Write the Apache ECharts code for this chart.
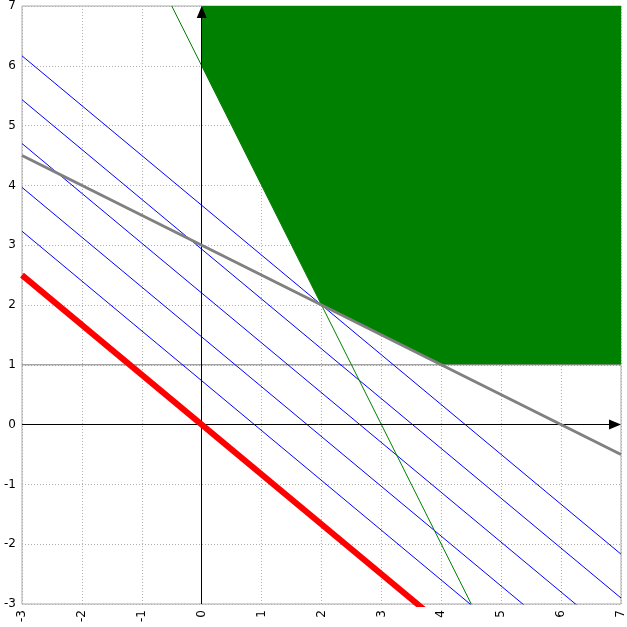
<!DOCTYPE html>
<html>
<head>
<meta charset="utf-8">
<script src="https://cdn.jsdelivr.net/npm/echarts@6/dist/echarts.min.js"></script>
<style>html,body{margin:0;padding:0;background:#fff}#c{width:627px;height:627px}</style>
</head>
<body>
<div id="c"></div>
<script>
// axis ranges and ticks
var xTicks = [-3,-2,-1,0,1,2,3,4,5,6,7];
var yTicks = [-3,-2,-1,0,1,2,3,4,5,6,7];
// objective 5x + 6y = k, levels drawn
var objCoef = [5, 6];
var objLevels = [4.4, 8.8, 13.2, 17.6, 22];
var optimumLevel = 0;
// constraint lines (endpoints)
var line2xy = [[-0.5, 7], [4.5, -3]];      // 2x + y = 6
var linex2y = [[-3, 4.5], [7, -0.5]];      // x + 2y = 6
var lineY1 = [[-3, 1], [7, 1]];            // y = 1
// feasible region boundary (filled to top)
var feasible = [[0, 6], [2, 2], [4, 1], [7, 1]];

function objLine(k) {
  return [[-3, (k - objCoef[0] * -3) / objCoef[1]], [7, (k - objCoef[0] * 7) / objCoef[1]]];
}

var series = [];
series.push({
  type: 'line', data: feasible, symbol: 'none', z: 1,
  lineStyle: {width: 0, color: '#008000'},
  areaStyle: {color: '#008000', opacity: 1, origin: 'end'}
});
series.push({
  type: 'line', data: lineY1, symbol: 'none', z: 2,
  lineStyle: {width: 1, color: '#808080'}
});
objLevels.forEach(function (k) {
  series.push({
    type: 'line', data: objLine(k), symbol: 'none', z: 3,
    lineStyle: {width: 1, color: '#0000ff'}
  });
});
series.push({
  type: 'line', data: line2xy, symbol: 'none', z: 4,
  lineStyle: {width: 1, color: '#008000'}
});
series.push({
  type: 'line', data: linex2y, symbol: 'none', z: 5,
  lineStyle: {width: 3, color: '#808080'}
});
series.push({
  type: 'line', data: objLine(optimumLevel), symbol: 'none', z: 6,
  lineStyle: {width: 6, color: '#ff0000', cap: 'butt'}
});
// coordinate axes with arrows (arrow tip ends at the plot edge)
series.push({
  type: 'line', data: [], z: 7,
  markLine: {
    silent: true, animation: false,
    symbol: ['none', 'triangle'], symbolSize: [10, 12],
    label: {show: false},
    lineStyle: {color: '#000', width: 1, type: 'solid'},
    emphasis: {disabled: true},
    data: [
      [{coord: [-3, 0]}, {coord: [6.9, 0]}],
      [{coord: [0, -3]}, {coord: [0, 6.9]}]
    ]
  }
});

var chart = echarts.init(document.getElementById('c'), null, {renderer: 'canvas'});
chart.setOption({
  animation: false,
  backgroundColor: '#fff',
  grid: {left: 22, top: 5, width: 600, height: 599, show: true, borderColor: '#aaaaaa', borderWidth: 1, backgroundColor: 'transparent'},
  xAxis: {
    type: 'value', min: xTicks[0], max: xTicks[xTicks.length - 1], interval: 1,
    axisLine: {show: false}, axisTick: {show: false},
    axisLabel: {rotate: 90, margin: 6, color: '#000', fontSize: 12, fontFamily: 'DejaVu Sans',
      formatter: function (v) { return String(v); }},
    splitLine: {show: true, lineStyle: {type: [1, 2], color: '#b0b0b0', width: 1}}
  },
  yAxis: {
    type: 'value', min: yTicks[0], max: yTicks[yTicks.length - 1], interval: 1,
    axisLine: {show: false}, axisTick: {show: false},
    axisLabel: {margin: 6, color: '#000', fontSize: 12, fontFamily: 'DejaVu Sans'},
    splitLine: {show: true, lineStyle: {type: [1, 2], color: '#b0b0b0', width: 1}}
  },
  series: series
});
</script>
</body>
</html>
